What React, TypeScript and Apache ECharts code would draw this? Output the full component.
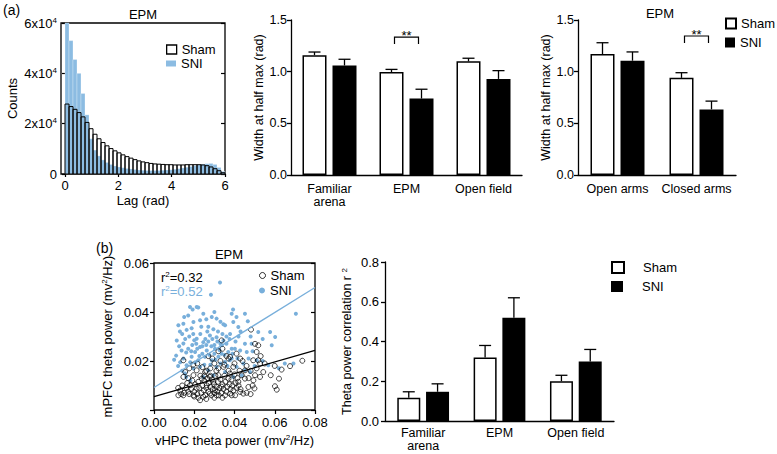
import React, { useEffect, useRef } from "react";
import * as echarts from "echarts";

const FONT = '"Liberation Sans", Arial, Helvetica, sans-serif';
const BLUE_HIST = "#8cbce2";
const BLUE = "#78afdb";

// ---------- (a) left: lag histogram ----------
const lagBinWidth = 0.15;
const lagTicks = [0, 2, 4, 6];
const shamCounts = [27800, 26800, 25700, 24400, 22700, 20500, 18000, 15800, 14000, 12500, 11200, 10100, 9200, 8400, 7600, 6900, 6300, 5700, 5200, 4800, 4500, 4200, 4000, 3900, 3800, 3700, 3700, 3600, 3600, 3600, 3700, 3700, 3700, 3700, 3600, 3300, 2800, 2100, 1300, 500];
const sniCounts = [60000, 53000, 45500, 40000, 32000, 23500, 14000, 9500, 7200, 5600, 4600, 3800, 3200, 2800, 2500, 2200, 2000, 1800, 1600, 1500, 1400, 1400, 1400, 1400, 1500, 1600, 1700, 1900, 2100, 2400, 2700, 3000, 3300, 3600, 3900, 4100, 4200, 3800, 2600, 1000];

// ---------- (a) middle: width at half max by arena ----------
const arenaCategories = ["Familiar\narena", "EPM", "Open field"];
const widthSham = [1.16, 0.997, 1.1];
const widthShamErr = [0.03, 0.025, 0.03];
const widthSni = [1.06, 0.74, 0.93];
const widthSniErr = [0.06, 0.09, 0.08];
const widthSig = [[1, 1.335]];

// ---------- (a) right: EPM arms ----------
const armCategories = ["Open arms", "Closed arms"];
const armSham = [1.17, 0.94];
const armShamErr = [0.11, 0.05];
const armSni = [1.106, 0.635];
const armSniErr = [0.085, 0.08];
const armSig = [[1, 1.345]];

// ---------- (b) left: theta power scatter ----------
const sniPoints = [
  [0.0328, 0.052], [0.0283, 0.047], [0.0705, 0.0393], [0.0393, 0.041], [0.022, 0.0418], [0.0192, 0.041], [0.0179, 0.042], [0.0212, 0.042],
  [0.017, 0.0386], [0.0245, 0.0393], [0.0287, 0.038], [0.0121, 0.0346], [0.0146, 0.0352], [0.0196, 0.0359], [0.0229, 0.0366], [0.0311, 0.0373],
  [0.0353, 0.0346], [0.0386, 0.0393], [0.0394, 0.0359], [0.0129, 0.032], [0.0162, 0.0327], [0.0187, 0.0334], [0.027, 0.034], [0.0452, 0.0393],
  [0.0466, 0.0362], [0.0419, 0.0339], [0.0577, 0.0318], [0.0602, 0.0298], [0.0518, 0.0318], [0.0452, 0.027], [0.0485, 0.027], [0.0585, 0.0264],
  [0.0428, 0.0243], [0.0461, 0.0237], [0.0386, 0.025], [0.0377, 0.0203], [0.0411, 0.0176], [0.0444, 0.019], [0.0477, 0.0155], [0.051, 0.0203],
  [0.0568, 0.0183], [0.0693, 0.019], [0.0394, 0.0135], [0.0436, 0.0142], [0.0452, 0.0162],
  [0.0113, 0.0284], [0.0146, 0.0271], [0.0212, 0.0291], [0.0245, 0.0277], [0.0278, 0.0304], [0.0311, 0.0297], [0.0345, 0.0284], [0.0378, 0.031],
  [0.0137, 0.0243], [0.017, 0.025], [0.0204, 0.0237], [0.0229, 0.0257], [0.0262, 0.0243], [0.0303, 0.025], [0.0336, 0.0264], [0.0369, 0.0237],
  [0.0402, 0.025], [0.0146, 0.021], [0.0187, 0.0217], [0.022, 0.0203], [0.0253, 0.0217], [0.0287, 0.0203], [0.032, 0.0217], [0.0353, 0.0196],
  [0.0386, 0.021], [0.0162, 0.0183], [0.0196, 0.0169], [0.0229, 0.0176], [0.027, 0.0162], [0.0311, 0.0176], [0.0353, 0.0155], [0.0154, 0.0149],
  [0.0245, 0.0135], [0.0295, 0.0142],
  [0.01, 0.0205], [0.012, 0.018], [0.011, 0.0222], [0.014, 0.016], [0.013, 0.0195], [0.016, 0.0135], [0.018, 0.012],
  [0.0175, 0.03], [0.019, 0.0265], [0.02, 0.0285], [0.0215, 0.025], [0.023, 0.031], [0.024, 0.023], [0.0255, 0.029], [0.0265, 0.032],
  [0.0275, 0.0225], [0.0285, 0.026], [0.0295, 0.033], [0.03, 0.023], [0.0315, 0.028], [0.0325, 0.0245], [0.033, 0.019], [0.034, 0.031],
  [0.035, 0.0225], [0.036, 0.027], [0.0365, 0.018], [0.0375, 0.029], [0.039, 0.023], [0.0405, 0.028], [0.0415, 0.021], [0.042, 0.03],
  [0.016, 0.0235], [0.018, 0.0195], [0.0195, 0.031], [0.0205, 0.0195], [0.021, 0.027], [0.0225, 0.022], [0.0235, 0.034], [0.025, 0.0185],
  [0.026, 0.0265], [0.028, 0.0185], [0.029, 0.029], [0.0305, 0.0205], [0.0318, 0.032], [0.0335, 0.023], [0.0345, 0.035], [0.0155, 0.029],
  [0.014, 0.031], [0.0125, 0.026], [0.0185, 0.024], [0.024, 0.026], [0.027, 0.028], [0.03, 0.0265], [0.033, 0.027], [0.036, 0.03],
  [0.047, 0.021], [0.049, 0.024], [0.054, 0.02], [0.062, 0.017], [0.05, 0.018], [0.043, 0.032], [0.03, 0.04], [0.026, 0.037],
  [0.015, 0.038], [0.033, 0.036], [0.041, 0.038], [0.048, 0.03], [0.054, 0.029], [0.065, 0.019],
];
const shamPoints = [
  [0.0146, 0.0203], [0.0146, 0.0135], [0.0121, 0.006], [0.0146, 0.006], [0.017, 0.0075], [0.0196, 0.006], [0.0229, 0.004], [0.0245, 0.0054],
  [0.0179, 0.0101], [0.0212, 0.0088], [0.0262, 0.0101], [0.0303, 0.0081], [0.0336, 0.0095], [0.0378, 0.0067], [0.0278, 0.0067], [0.0311, 0.006],
  [0.0353, 0.006], [0.0237, 0.0128], [0.0278, 0.0135], [0.032, 0.0142], [0.0345, 0.0176], [0.0378, 0.0217], [0.0336, 0.0284], [0.0212, 0.0162],
  [0.0196, 0.0142], [0.0254, 0.0155], [0.0295, 0.0115], [0.037, 0.0128],
  [0.0482, 0.0328], [0.0502, 0.027], [0.0518, 0.0264], [0.051, 0.0237], [0.0428, 0.021], [0.037, 0.021], [0.0493, 0.0203], [0.0518, 0.0203],
  [0.0527, 0.019], [0.0543, 0.0155], [0.0502, 0.0142], [0.0527, 0.0135], [0.0494, 0.0121], [0.0436, 0.0142], [0.0452, 0.0128], [0.0419, 0.0115],
  [0.0469, 0.0094], [0.0428, 0.0074], [0.0444, 0.0067], [0.0403, 0.006], [0.0386, 0.006], [0.0499, 0.0088], [0.0601, 0.0097], [0.061, 0.0083],
  [0.0621, 0.0128], [0.0634, 0.0165], [0.0676, 0.0179], [0.0737, 0.0201], [0.058, 0.0142], [0.0394, 0.0176], [0.0377, 0.0149], [0.0452, 0.0162],
  [0.0185, 0.0085], [0.019, 0.012], [0.02, 0.0075], [0.0205, 0.0105], [0.0215, 0.0065], [0.022, 0.0115], [0.0225, 0.009], [0.023, 0.014],
  [0.0235, 0.007], [0.024, 0.01], [0.0248, 0.008], [0.025, 0.012], [0.0255, 0.006], [0.026, 0.009], [0.0265, 0.013], [0.027, 0.0075],
  [0.0272, 0.011], [0.028, 0.0095], [0.0285, 0.006], [0.0288, 0.0125], [0.0292, 0.0085], [0.0298, 0.0105], [0.03, 0.007], [0.0305, 0.014],
  [0.031, 0.0095], [0.0315, 0.0075], [0.0318, 0.0115], [0.0322, 0.006], [0.0325, 0.009], [0.033, 0.0125], [0.0335, 0.007], [0.034, 0.0105],
  [0.0345, 0.0085], [0.035, 0.014], [0.0355, 0.0115], [0.036, 0.0075], [0.0365, 0.0095], [0.037, 0.016], [0.0375, 0.0105], [0.038, 0.0085],
  [0.0385, 0.0125], [0.039, 0.01], [0.0395, 0.008], [0.04, 0.0145], [0.0405, 0.011], [0.041, 0.009], [0.0415, 0.013], [0.042, 0.01],
  [0.0425, 0.016], [0.043, 0.0085], [0.016, 0.009], [0.0165, 0.011], [0.017, 0.013], [0.0175, 0.0065], [0.015, 0.007], [0.0135, 0.0065],
  [0.013, 0.008], [0.014, 0.01], [0.0155, 0.0155], [0.0175, 0.017], [0.0195, 0.0185], [0.0215, 0.019], [0.024, 0.0175], [0.026, 0.016],
  [0.028, 0.017], [0.03, 0.019], [0.031, 0.016], [0.033, 0.02], [0.035, 0.0185], [0.036, 0.022], [0.029, 0.021], [0.027, 0.022],
  [0.032, 0.024], [0.034, 0.025], [0.04, 0.019], [0.041, 0.023], [0.044, 0.02], [0.046, 0.018], [0.048, 0.016], [0.047, 0.013],
  [0.049, 0.01], [0.051, 0.017], [0.053, 0.022], [0.046, 0.007], [0.048, 0.0065], [0.055, 0.019], [0.06, 0.018], [0.022, 0.005],
  [0.026, 0.0045], [0.03, 0.005], [0.034, 0.005], [0.02, 0.0055], [0.012, 0.009], [0.032, 0.017], [0.028, 0.014], [0.025, 0.014],
];
const shamFit = [[0, 0.0055], [0.08, 0.0243]];
const sniFit = [[0, 0.0092], [0.08, 0.05]];
const shamR2 = "0.32";
const sniR2 = "0.52";

// ---------- (b) right: theta power correlation ----------
const corrCategories = ["Familiar\narena", "EPM", "Open field"];
const corrSham = [0.117, 0.32, 0.2];
const corrShamErr = [0.03, 0.06, 0.03];
const corrSni = [0.147, 0.52, 0.3];
const corrSniErr = [0.04, 0.1, 0.06];

// ---------- helpers ----------
const histData = (counts: number[]) => counts.map((c, i) => [i * lagBinWidth, (i + 1) * lagBinWidth, c]);
const errData = (sham: number[], shamE: number[], sni: number[], sniE: number[]) => [
  ...sham.map((v, i) => [i, v, shamE[i], -1]),
  ...sni.map((v, i) => [i, v, sniE[i], 1]),
];

const BLACK = "#000";
const axisLine = { show: true, lineStyle: { color: BLACK, width: 1.3 } };
const sup = { fontSize: 8, padding: [0, 0, 6, 0], fontFamily: FONT, color: BLACK };
const labelStyle = (size: number) => ({ color: BLACK, fontSize: size, fontFamily: FONT });

const histRender = (fill: string, stroke: string | null) => (params: any, api: any) => {
  const a = api.coord([api.value(0), api.value(2)]);
  const b = api.coord([api.value(1), 0]);
  return {
    type: "rect",
    shape: { x: a[0], y: a[1], width: b[0] - a[0], height: b[1] - a[1] },
    style: stroke ? { fill, stroke, lineWidth: 1 } : { fill, stroke: "rgba(255,255,255,0.55)", lineWidth: 0.5 },
  };
};

const errRender = (half: number, cap: number) => (params: any, api: any) => {
  const i = api.value(0), v = api.value(1), e = api.value(2), side = api.value(3);
  const base = api.coord([i, v]);
  const top = api.coord([i, v + e]);
  const x = base[0] + side * half;
  return {
    type: "group",
    children: [
      { type: "line", shape: { x1: x, y1: base[1], x2: x, y2: top[1] }, style: { stroke: BLACK, lineWidth: 1.3 } },
      { type: "line", shape: { x1: x - cap, y1: top[1], x2: x + cap, y2: top[1] }, style: { stroke: BLACK, lineWidth: 1.3 } },
    ],
  };
};

const bracketRender = (half: number, leg: number) => (params: any, api: any) => {
  const p = api.coord([api.value(0), api.value(1)]);
  return {
    type: "group",
    children: [
      {
        type: "polyline",
        shape: { points: [[p[0] - half, p[1] + leg], [p[0] - half, p[1]], [p[0] + half, p[1]], [p[0] + half, p[1] + leg]] },
        style: { stroke: BLACK, fill: null, lineWidth: 1.2 },
      },
      { type: "text", x: p[0], y: p[1] + 5, style: { text: "**", fill: BLACK, fontSize: 13, fontFamily: FONT, align: "center", verticalAlign: "bottom" } },
    ],
  };
};

const legendBase = {
  orient: "vertical",
  padding: 0,
  selectedMode: false,
  formatter: (n: string) => n.split("_")[0],
  textStyle: { color: BLACK, fontSize: 13, fontFamily: FONT, lineHeight: 12 },
};

function buildOption(): any {
  return {
    animation: false,
    backgroundColor: "#fff",
    textStyle: { fontFamily: FONT },
    grid: [
      { left: 61, top: 23, width: 164, height: 151, show: true, borderColor: BLACK, borderWidth: 1.3, backgroundColor: "transparent" },
      { left: 291, top: 20, width: 231, height: 155 },
      { left: 578, top: 20, width: 158, height: 155 },
      { left: 154, top: 263, width: 161, height: 147, show: true, borderColor: BLACK, borderWidth: 1.3, backgroundColor: "transparent" },
      { left: 385, top: 262, width: 229, height: 159 },
    ],
    xAxis: [
      {
        gridIndex: 0, type: "value", min: -0.15, max: 6,
        axisLine: { show: false }, splitLine: { show: false },
        axisTick: { show: true, customValues: lagTicks, length: 3, lineStyle: { color: BLACK, width: 1.2 } },
        axisLabel: { ...labelStyle(13), customValues: lagTicks, margin: 5 },
        name: "Lag (rad)", nameLocation: "middle", nameGap: 20, nameTextStyle: labelStyle(13),
      },
      {
        gridIndex: 1, type: "category", data: arenaCategories, axisLine, axisTick: { show: false },
        axisLabel: { ...labelStyle(12.5), margin: 7, lineHeight: 13, interval: 0 },
      },
      {
        gridIndex: 2, type: "category", data: armCategories, axisLine, axisTick: { show: false },
        axisLabel: { ...labelStyle(12.5), margin: 7, interval: 0 },
      },
      {
        gridIndex: 3, type: "value", min: 0, max: 0.08, interval: 0.02,
        axisLine: { show: false }, splitLine: { show: false },
        axisTick: { show: true, length: 4, lineStyle: { color: BLACK, width: 1.2 } },
        axisLabel: { ...labelStyle(13), margin: 6, formatter: (v: number) => v.toFixed(2) },
        name: "vHPC theta power (mv{sup|2}/Hz)", nameLocation: "middle", nameGap: 23,
        nameTextStyle: { ...labelStyle(13), rich: { sup } },
      },
      {
        gridIndex: 4, type: "category", data: corrCategories, axisLine, axisTick: { show: false },
        axisLabel: { ...labelStyle(12.5), margin: 5, lineHeight: 13, interval: 0 },
      },
    ],
    yAxis: [
      {
        gridIndex: 0, type: "value", min: 0, max: 60000, interval: 20000,
        axisLine: { show: false }, splitLine: { show: false },
        axisTick: { show: true, length: 3, lineStyle: { color: BLACK, width: 1.2 } },
        axisLabel: {
          ...labelStyle(13), margin: 4,
          formatter: (v: number) => (v === 0 ? "0" : `${v / 10000}x10{sup|4}`),
          rich: { sup },
        },
        name: "Counts", nameLocation: "middle", nameGap: 42, nameTextStyle: labelStyle(13),
      },
      {
        gridIndex: 0, type: "value", position: "right", min: 0, max: 60000, interval: 20000,
        axisLine: { show: false }, splitLine: { show: false }, axisLabel: { show: false },
        axisTick: { show: true, inside: true, length: 4, lineStyle: { color: BLACK, width: 1.2 } },
      },
      {
        gridIndex: 1, type: "value", min: 0, max: 1.5, interval: 0.5, axisLine, splitLine: { show: false },
        axisTick: { show: true, length: 4, lineStyle: { color: BLACK, width: 1.3 } },
        axisLabel: { ...labelStyle(12.5), margin: 4, formatter: (v: number) => v.toFixed(1) },
        name: "Width at half max (rad)", nameLocation: "middle", nameGap: 24, nameTextStyle: labelStyle(12.5),
      },
      {
        gridIndex: 2, type: "value", min: 0, max: 1.5, interval: 0.5, axisLine, splitLine: { show: false },
        axisTick: { show: true, length: 4, lineStyle: { color: BLACK, width: 1.3 } },
        axisLabel: { ...labelStyle(12.5), margin: 4, formatter: (v: number) => v.toFixed(1) },
        name: "Width at half max (rad)", nameLocation: "middle", nameGap: 26, nameTextStyle: labelStyle(12.5),
      },
      {
        gridIndex: 3, type: "value", min: 0, max: 0.06, interval: 0.02,
        axisLine: { show: false }, splitLine: { show: false },
        axisTick: { show: true, length: 4, lineStyle: { color: BLACK, width: 1.2 } },
        axisLabel: { ...labelStyle(13), margin: 5, formatter: (v: number) => (v === 0 ? "" : v.toFixed(2)) },
        name: "mPFC theta power (mv{sup|2}/Hz)", nameLocation: "middle", nameGap: 40,
        nameTextStyle: { ...labelStyle(13), rich: { sup } },
      },
      {
        gridIndex: 3, type: "value", position: "right", min: 0, max: 0.06, interval: 0.02,
        axisLine: { show: false }, splitLine: { show: false }, axisLabel: { show: false },
        axisTick: { show: true, inside: true, length: 4, lineStyle: { color: BLACK, width: 1.2 } },
      },
      {
        gridIndex: 4, type: "value", min: 0, max: 0.8, interval: 0.2, axisLine, splitLine: { show: false },
        axisTick: { show: true, length: 4, lineStyle: { color: BLACK, width: 1.3 } },
        axisLabel: { ...labelStyle(13), margin: 6, formatter: (v: number) => v.toFixed(1) },
        name: "Theta power correlation r {sup|2}", nameLocation: "middle", nameGap: 31,
        nameTextStyle: { ...labelStyle(12.5), rich: { sup } },
      },
    ],
    legend: [
      { ...legendBase, left: 166, top: 43, itemWidth: 10, itemHeight: 9, data: [{ name: "Sham_hist", icon: "rect", itemStyle: { color: "#fff", borderColor: BLACK, borderWidth: 1.3 } }] },
      { ...legendBase, left: 166, top: 57, itemWidth: 10, itemHeight: 6, data: [{ name: "SNI_hist", icon: "rect", itemStyle: { color: BLUE_HIST, borderWidth: 0 } }] },
      { ...legendBase, left: 725, top: 17, itemWidth: 10, itemHeight: 10, data: [{ name: "Sham_a", icon: "rect" }] },
      { ...legendBase, left: 725, top: 36, itemWidth: 10, itemHeight: 10, data: [{ name: "SNI_a", icon: "rect" }] },
      { ...legendBase, left: 259, top: 269, itemWidth: 6, itemHeight: 6, data: [{ name: "Sham_sc", icon: "circle", itemStyle: { color: "#fff", borderColor: BLACK, borderWidth: 1 } }] },
      { ...legendBase, left: 259, top: 284, itemWidth: 6, itemHeight: 6, data: [{ name: "SNI_sc", icon: "circle" }] },
      { ...legendBase, left: 611, top: 261, itemWidth: 12, itemHeight: 11, textStyle: { ...legendBase.textStyle, padding: [0, 0, 0, 14] }, data: [{ name: "Sham_b", icon: "rect" }] },
      { ...legendBase, left: 611, top: 280, itemWidth: 12, itemHeight: 11, textStyle: { ...legendBase.textStyle, padding: [0, 0, 0, 14] }, data: [{ name: "SNI_b", icon: "rect" }] },
    ],
    graphic: {
      elements: [
        { type: "text", left: 3, top: 3, style: { text: "(a)", fill: BLACK, fontSize: 14, fontFamily: FONT } },
        { type: "text", x: 143, y: 14, style: { text: "EPM", fill: BLACK, fontSize: 13, fontFamily: FONT, align: "center", verticalAlign: "middle" } },
        { type: "text", x: 660, y: 13, style: { text: "EPM", fill: BLACK, fontSize: 13, fontFamily: FONT, align: "center", verticalAlign: "middle" } },
        { type: "text", left: 96, top: 241, style: { text: "(b)", fill: BLACK, fontSize: 14, fontFamily: FONT } },
        { type: "text", x: 229, y: 254, style: { text: "EPM", fill: BLACK, fontSize: 13, fontFamily: FONT, align: "center", verticalAlign: "middle" } },
        {
          type: "text", x: 161, y: 277,
          style: { text: `r{sup|2}=${shamR2}`, fill: BLACK, fontSize: 13, fontFamily: FONT, verticalAlign: "middle", rich: { sup } },
        },
        {
          type: "text", x: 161, y: 291,
          style: { text: `r{sup|2}=${sniR2}`, fill: BLUE, fontSize: 13, fontFamily: FONT, verticalAlign: "middle", rich: { sup: { ...sup, color: BLUE } } },
        },
      ],
    },
    series: [
      { name: "SNI_hist", type: "custom", xAxisIndex: 0, yAxisIndex: 0, data: histData(sniCounts), encode: { x: [0, 1], y: 2 }, renderItem: histRender(BLUE_HIST, null), itemStyle: { color: BLUE_HIST } },
      { name: "Sham_hist", type: "custom", xAxisIndex: 0, yAxisIndex: 0, data: histData(shamCounts), encode: { x: [0, 1], y: 2 }, renderItem: histRender("rgba(0,0,0,0)", BLACK), itemStyle: { color: "#fff", borderColor: BLACK } },

      { name: "Sham_a", type: "bar", xAxisIndex: 1, yAxisIndex: 2, data: widthSham, barWidth: 24, barGap: "25%", itemStyle: { color: "#fff", borderColor: BLACK, borderWidth: 1.5 } },
      { name: "SNI_a", type: "bar", xAxisIndex: 1, yAxisIndex: 2, data: widthSni, barWidth: 24, barGap: "25%", itemStyle: { color: BLACK } },
      { name: "errA", type: "custom", xAxisIndex: 1, yAxisIndex: 2, data: errData(widthSham, widthShamErr, widthSni, widthSniErr), encode: { x: 0, y: 1 }, renderItem: errRender(15, 6), z: 3 },
      { name: "sigA", type: "custom", xAxisIndex: 1, yAxisIndex: 2, data: widthSig, encode: { x: 0, y: 1 }, renderItem: bracketRender(12, 7), clip: false },

      { name: "Sham_a", type: "bar", xAxisIndex: 2, yAxisIndex: 3, data: armSham, barWidth: 24, barGap: "25%", itemStyle: { color: "#fff", borderColor: BLACK, borderWidth: 1.5 } },
      { name: "SNI_a", type: "bar", xAxisIndex: 2, yAxisIndex: 3, data: armSni, barWidth: 24, barGap: "25%", itemStyle: { color: BLACK } },
      { name: "errArm", type: "custom", xAxisIndex: 2, yAxisIndex: 3, data: errData(armSham, armShamErr, armSni, armSniErr), encode: { x: 0, y: 1 }, renderItem: errRender(15, 6), z: 3 },
      { name: "sigArm", type: "custom", xAxisIndex: 2, yAxisIndex: 3, data: armSig, encode: { x: 0, y: 1 }, renderItem: bracketRender(12, 7), clip: false },

      { name: "SNI_sc", type: "scatter", xAxisIndex: 3, yAxisIndex: 4, data: sniPoints, symbol: "circle", symbolSize: 4, itemStyle: { color: BLUE, opacity: 1 } },
      { name: "Sham_sc", type: "scatter", xAxisIndex: 3, yAxisIndex: 4, data: shamPoints, symbol: "circle", symbolSize: 5, itemStyle: { color: "rgba(255,255,255,0)", borderColor: BLACK, borderWidth: 0.9 } },
      { name: "fitSNI", type: "line", xAxisIndex: 3, yAxisIndex: 4, data: sniFit, symbol: "none", lineStyle: { color: BLUE, width: 1.3 }, z: 4 },
      { name: "fitSham", type: "line", xAxisIndex: 3, yAxisIndex: 4, data: shamFit, symbol: "none", lineStyle: { color: BLACK, width: 1.3 }, z: 4 },

      { name: "Sham_b", type: "bar", xAxisIndex: 4, yAxisIndex: 6, data: corrSham, barWidth: 23, barGap: "25%", itemStyle: { color: "#fff", borderColor: BLACK, borderWidth: 1.5 } },
      { name: "SNI_b", type: "bar", xAxisIndex: 4, yAxisIndex: 6, data: corrSni, barWidth: 23, barGap: "25%", itemStyle: { color: BLACK } },
      { name: "errB", type: "custom", xAxisIndex: 4, yAxisIndex: 6, data: errData(corrSham, corrShamErr, corrSni, corrSniErr), encode: { x: 0, y: 1 }, renderItem: errRender(14.4, 6), z: 3 },
    ],
  };
}

export default function App() {
  const ref = useRef<HTMLDivElement>(null);
  useEffect(() => {
    document.body.style.margin = "0";
    if (!ref.current) return;
    const chart = echarts.init(ref.current, null, { renderer: "svg" });
    chart.setOption(buildOption());
    return () => chart.dispose();
  }, []);
  return <div ref={ref} style={{ width: 777, height: 454, background: "#fff" }} />;
}
